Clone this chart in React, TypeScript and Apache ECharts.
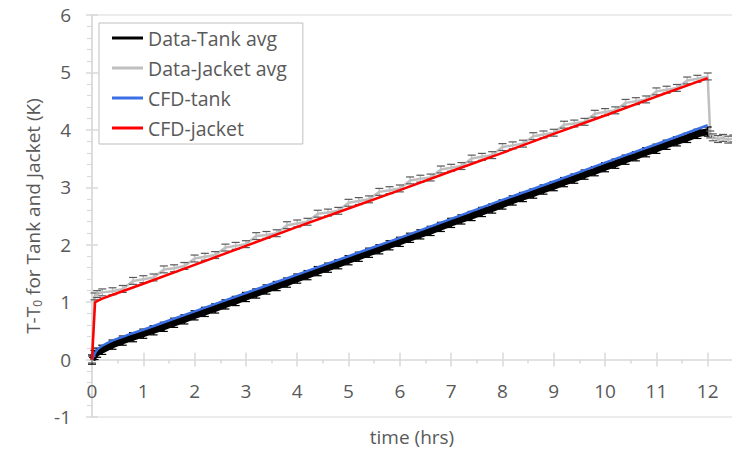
import React, { useEffect, useRef } from "react";
import * as echarts from "echarts";

// Measured hours
const dataTimes = [
  0, 0.05, 0.1, 0.2, 0.4, 0.6, 0.8, 1.0, 1.2, 1.4, 1.6, 1.8, 2.0, 2.2, 2.4, 2.6, 2.8, 3.0,
  3.2, 3.4, 3.6, 3.8, 4.0, 4.2, 4.4, 4.6, 4.8, 5.0, 5.2, 5.4, 5.6, 5.8, 6.0, 6.2, 6.4, 6.6,
  6.8, 7.0, 7.2, 7.4, 7.6, 7.8, 8.0, 8.2, 8.4, 8.6, 8.8, 9.0, 9.2, 9.4, 9.6, 9.8, 10.0, 10.2,
  10.4, 10.6, 10.8, 11.0, 11.2, 11.4, 11.6, 11.8, 12.0,
];

// Measured tank average rise (K)
const tankAvg = [
  0.0, 0.08, 0.12, 0.17, 0.26, 0.33, 0.39, 0.45, 0.51, 0.57, 0.64, 0.7, 0.77, 0.83, 0.89, 0.96,
  1.02, 1.09, 1.15, 1.22, 1.28, 1.34, 1.41, 1.47, 1.54, 1.6, 1.66, 1.73, 1.79, 1.86, 1.92, 1.99,
  2.05, 2.12, 2.18, 2.24, 2.31, 2.38, 2.44, 2.5, 2.57, 2.63, 2.7, 2.77, 2.83, 2.89, 2.96, 3.02,
  3.09, 3.15, 3.22, 3.28, 3.35, 3.41, 3.48, 3.54, 3.61, 3.67, 3.74, 3.8, 3.86, 3.93, 3.97,
];

// Measured jacket average rise (K)
const jacketAvg = [
  0.0, 1.1, 1.14, 1.17, 1.19, 1.23, 1.37, 1.4, 1.43, 1.57, 1.59, 1.63, 1.76, 1.79, 1.82, 1.95,
  1.98, 2.01, 2.15, 2.17, 2.2, 2.34, 2.37, 2.4, 2.54, 2.56, 2.59, 2.73, 2.76, 2.79, 2.92, 2.95,
  2.98, 3.12, 3.15, 3.17, 3.31, 3.34, 3.37, 3.5, 3.53, 3.56, 3.7, 3.73, 3.76, 3.89, 3.92, 3.95,
  4.09, 4.11, 4.14, 4.28, 4.31, 4.34, 4.47, 4.5, 4.53, 4.67, 4.7, 4.73, 4.86, 4.89, 4.93,
];

// Jacket readings after the heating stops
const jacketTailTimes = [12.05, 12.1, 12.2, 12.3, 12.4, 12.5];
const jacketTail = [3.92, 3.87, 3.84, 3.86, 3.83, 3.85];

// Error bar half-widths (K)
const tankErr = 0.08;
const jacketErr = 0.06;

// CFD predictions
const cfdTankTimes = [0, 0.05, 0.1, 0.2, 0.4, 0.7, 1, 2, 3, 4, 5, 6, 7, 8, 9, 10, 11, 12];
const cfdTank = [0, 0.1, 0.17, 0.24, 0.33, 0.43, 0.52, 0.84, 1.16, 1.48, 1.8, 2.12, 2.45, 2.78, 3.1, 3.43, 3.75, 4.08];
const cfdJacketTimes = [0, 0.06, 0.2, 0.5, 1, 2, 3, 4, 5, 6, 7, 8, 9, 10, 11, 12];
const cfdJacket = [0, 1.0, 1.06, 1.16, 1.32, 1.65, 1.98, 2.31, 2.63, 2.95, 3.28, 3.6, 3.93, 4.25, 4.58, 4.9];

const xTicks = { min: 0, max: 13, interval: 1 };
const yTicks = { min: -1, max: 6, interval: 1 };

const FONT = "'Open Sans', Lato, sans-serif";
const FONT_SIZE = 19;
const AXIS_GRAY = "#d9d9d9";
const TEXT_GRAY = "#595959";

// Visible frame and the wider chart canvas behind it (plot runs past the right edge)
const VIEW_W = 732;
const CHART_W = 760;
const CHART_H = 452;
const GRID_LEFT = 92;
const GRID_TOP = 15;
const GRID_BOTTOM = 35;
const PLOT_H = CHART_H - GRID_TOP - GRID_BOTTOM;
// Lift the time axis from the bottom edge (y = -1) up to y = 0
const X_AXIS_OFFSET = -((0 - yTicks.min) / (yTicks.max - yTicks.min)) * PLOT_H;

const zip = (xs: number[], ys: number[]) => xs.map((x, i) => [x, ys[i]]);

function errorBars(points: number[][], err: number, barColor: string, capColor: string, z: number) {
  return {
    type: "custom",
    silent: true,
    z,
    encode: { x: 0, y: 1 },
    data: points.map((p) => [p[0], p[1], err]),
    renderItem: (_params: any, api: any) => {
      const x = api.value(0);
      const y = api.value(1);
      const e = api.value(2);
      const top = api.coord([x, y + e]);
      const bot = api.coord([x, y - e]);
      const hw = 4;
      return {
        type: "group",
        children: [
          { type: "line", shape: { x1: top[0], y1: top[1], x2: bot[0], y2: bot[1] }, style: { stroke: barColor, lineWidth: 1.5 } },
          { type: "line", shape: { x1: top[0] - hw, y1: top[1], x2: top[0] + hw, y2: top[1] }, style: { stroke: capColor, lineWidth: 1.2 } },
          { type: "line", shape: { x1: bot[0] - hw, y1: bot[1], x2: bot[0] + hw, y2: bot[1] }, style: { stroke: capColor, lineWidth: 1.2 } },
        ],
      };
    },
  };
}

export default function App() {
  const ref = useRef<HTMLDivElement>(null);

  useEffect(() => {
    if (!ref.current) return;
    const chart = echarts.init(ref.current, undefined, { renderer: "svg" });

    const tankPts = zip(dataTimes, tankAvg);
    const jacketPts = zip(dataTimes, jacketAvg).concat(zip(jacketTailTimes, jacketTail));

    chart.setOption({
      animation: false,
      backgroundColor: "#ffffff",
      textStyle: { fontFamily: FONT },
      grid: {
        left: GRID_LEFT,
        top: GRID_TOP,
        bottom: GRID_BOTTOM,
        right: 1,
        show: true,
        borderColor: AXIS_GRAY,
        borderWidth: 1,
        backgroundColor: "transparent",
      },
      legend: {
        orient: "vertical",
        left: 99,
        top: 23,
        padding: [5, 16, 6, 13],
        itemGap: 10,
        itemWidth: 31,
        itemHeight: 3,
        icon: "rect",
        backgroundColor: "#ffffff",
        borderColor: "#bfbfbf",
        borderWidth: 1,
        data: ["Data-Tank avg", "Data-Jacket avg", "CFD-tank", "CFD-jacket"],
        textStyle: { fontFamily: FONT, fontSize: 19.5, color: TEXT_GRAY, lineHeight: 20 },
      },
      xAxis: [
        {
          type: "value",
          position: "bottom",
          offset: X_AXIS_OFFSET,
          ...xTicks,
          axisLine: { show: true, onZero: false, lineStyle: { color: AXIS_GRAY, width: 1.5 } },
          axisTick: { show: true, length: 7, lineStyle: { color: AXIS_GRAY, width: 1.5 } },
          minorTick: { show: true, splitNumber: 2, length: 4, lineStyle: { color: AXIS_GRAY, width: 1.5 } },
          splitLine: { show: false },
          axisLabel: { margin: 22, fontSize: FONT_SIZE, color: TEXT_GRAY, fontFamily: FONT, showMaxLabel: false },
        },
        {
          type: "value",
          position: "bottom",
          offset: X_AXIS_OFFSET,
          ...xTicks,
          axisLine: { show: false, onZero: false },
          axisTick: { show: true, inside: true, length: 7, lineStyle: { color: AXIS_GRAY, width: 1.5 } },
          splitLine: { show: false },
          axisLabel: { show: false },
        },
      ],
      yAxis: [
        {
          type: "value",
          position: "left",
          ...yTicks,
          axisLine: { show: true, onZero: false, lineStyle: { color: AXIS_GRAY, width: 1.5 } },
          axisTick: { show: true, length: 6, lineStyle: { color: AXIS_GRAY, width: 1.5 } },
          minorTick: { show: true, splitNumber: 5, length: 5, lineStyle: { color: AXIS_GRAY, width: 1.2 } },
          splitLine: { show: false },
          axisLabel: { margin: 21, fontSize: FONT_SIZE, color: TEXT_GRAY, fontFamily: FONT },
          name: "T-T{sub|0} for Tank and Jacket (K)",
          nameLocation: "middle",
          nameRotate: 90,
          nameGap: 47,
          nameTextStyle: {
            fontSize: FONT_SIZE,
            color: TEXT_GRAY,
            fontFamily: FONT,
            rich: {
              sub: { fontSize: 12, color: TEXT_GRAY, fontFamily: FONT, padding: [9, 0, 0, 0] },
            },
          },
        },
        {
          type: "value",
          position: "left",
          ...yTicks,
          axisLine: { show: false, onZero: false },
          axisTick: { show: true, inside: true, length: 6, lineStyle: { color: AXIS_GRAY, width: 1.5 } },
          splitLine: { show: false },
          axisLabel: { show: false },
        },
      ],
      graphic: [
        {
          type: "text",
          x: (GRID_LEFT + VIEW_W) / 2,
          y: 437,
          style: {
            text: "time (hrs)",
            fontSize: FONT_SIZE,
            fill: TEXT_GRAY,
            fontFamily: FONT,
            align: "center",
            verticalAlign: "middle",
          },
        },
      ],
      series: [
        {
          name: "Data-Tank avg",
          type: "line",
          data: tankPts,
          showSymbol: false,
          lineStyle: { color: "#000000", width: 7 },
          itemStyle: { color: "#000000" },
          z: 2,
        },
        errorBars(tankPts, tankErr, "#000000", "#000000", 3),
        {
          name: "Data-Jacket avg",
          type: "line",
          data: jacketPts,
          showSymbol: false,
          lineStyle: { color: "#bfbfbf", width: 2.5 },
          itemStyle: { color: "#bfbfbf" },
          z: 2,
        },
        errorBars(jacketPts, jacketErr, "#bfbfbf", "#595959", 3),
        {
          name: "CFD-tank",
          type: "line",
          data: zip(cfdTankTimes, cfdTank),
          showSymbol: false,
          smooth: 0.3,
          lineStyle: { color: "#3a6fe6", width: 2.5 },
          itemStyle: { color: "#3a6fe6" },
          z: 4,
        },
        {
          name: "CFD-jacket",
          type: "line",
          data: zip(cfdJacketTimes, cfdJacket),
          showSymbol: false,
          lineStyle: { color: "#ff0000", width: 2.5 },
          itemStyle: { color: "#ff0000" },
          z: 4,
        },
      ],
    });

    return () => chart.dispose();
  }, []);

  return (
    <div
      style={{ position: "absolute", left: 0, top: 0, width: VIEW_W, height: CHART_H, overflow: "hidden" }}
    >
      <div ref={ref} style={{ width: CHART_W, height: CHART_H }} />
    </div>
  );
}
